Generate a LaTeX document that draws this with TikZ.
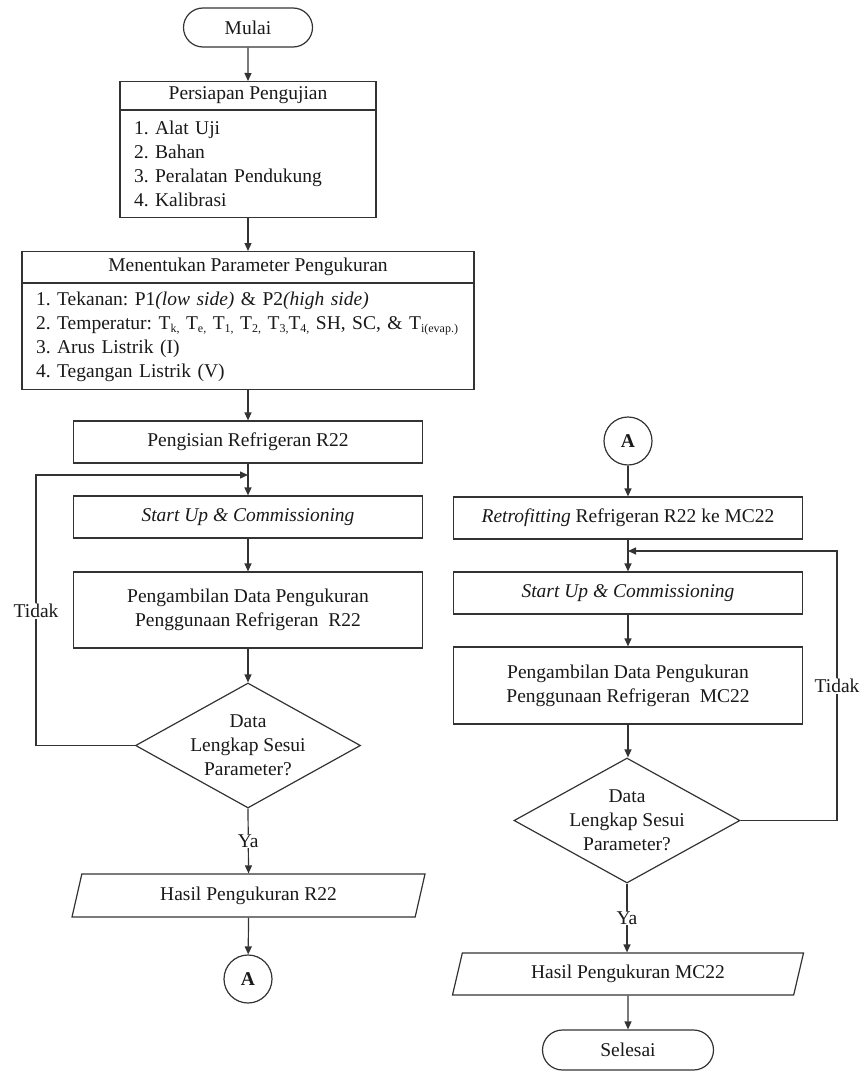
\documentclass[tikz,border=0pt]{standalone}
\usepackage{fontspec}
\setmainfont{Liberation Serif}
\usetikzlibrary{arrows.meta,shapes.geometric,shapes.misc}
\newcommand{\lowidx}[1]{\raisebox{-3pt}{\fontsize{12}{12}\selectfont #1}}

\begin{document}
\begin{tikzpicture}[x=1pt, y=-1pt,
    every node/.append style = {font = \fontsize{19.5}{24}\selectfont\frenchspacing, text = black!90},
    line/.style = {draw = black!80, line width = 1.2pt},
    arrow/.style = {line, -{Triangle[length = 8pt, width = 7pt]}},
    process/.style = {line, rectangle, minimum width = 349, minimum height = 42, inner sep = 0pt, align = center},
    term/.style = {line, rounded rectangle, minimum height = 39, inner sep = 0pt},
    decision/.style = {line, diamond, minimum width = 225, minimum height = 125, inner sep = 0pt},
    dtext/.style = {align = center},
    io/.style = {line, trapezium, trapezium left angle = 61, trapezium right angle = 119, trapezium stretches body,
                 minimum width = 353, minimum height = 43, inner sep = 0pt},
    conn/.style = {line, circle, minimum size = 48, inner sep = 0pt, font = \fontsize{19.5}{24}\selectfont\bfseries},
    lbl/.style = {fill = white, inner sep = 1pt}]
    \useasboundingbox (0,0) rectangle (862,1073);

    \node[term, minimum width = 129] (mulai) at (248,27.5) {Mulai};
    \node[line, rectangle, minimum width = 256, minimum height = 28, inner sep = 0pt, anchor = north] (prepHead) at (248,81) {Persiapan Pengujian};
    \node[line, rectangle, text width = 228, inner xsep = 14, inner ysep = 0pt, minimum height = 107, align = left, anchor = north] (prepList) at (prepHead.south) {1. Alat Uji\\2. Bahan\\3. Peralatan Pendukung\\4. Kalibrasi};
    \node[line, rectangle, minimum width = 452, minimum height = 31, inner sep = 0pt, anchor = north] (paramHead) at (248,251) {Menentukan Parameter Pengukuran};
    \node[line, rectangle, text width = 424, inner xsep = 14, inner ysep = 0pt, minimum height = 106, align = left, anchor = north] (paramList) at (paramHead.south) {1. Tekanan: P1\textit{(low side)} \& P2\textit{(high side)}\\\mbox{2. Temperatur: T\lowidx{k,} T\lowidx{e,} T\lowidx{1,} T\lowidx{2,} T\lowidx{3,}T\lowidx{4,} SH, SC, \& T\lowidx{i(evap.)}}\\3. Arus Listrik (I)\\4. Tegangan Listrik (V)};

    \node[process] (isi) at (248,442) {Pengisian Refrigeran R22};
    \node[process] (start1) at (248,517) {\textit{Start Up \& Commissioning}};
    \node[process, minimum height = 76] (ambil1) at (248,610) {Pengambilan Data Pengukuran\\Penggunaan Refrigeran \ R22};
    \node[decision] (dec1) at (248,745.5) {};
    \node[dtext] (dec1txt) at (dec1.center) {Data\\Lengkap Sesui\\Parameter?};
    \node[io] (hasil1) at (248.5,895.5) {Hasil Pengukuran R22};
    \node[conn] (conA1) at (248,979) {A};
    \node[lbl] (tidakL) at (36,611) {Tidak};
    \coordinate (joinL) at (248,475);

    \node[conn] (conA2) at (628,441) {A};
    \node[process] (retro) at (628,518) {\textit{Retrofitting} Refrigeran R22 ke MC22};
    \node[process] (start2) at (628,593) {\textit{Start Up \& Commissioning}};
    \node[process, minimum height = 77] (ambil2) at (628,685.5) {Pengambilan Data Pengukuran\\Penggunaan Refrigeran \ MC22};
    \node[decision, minimum width = 226] (dec2) at (627,820.5) {};
    \node[dtext] (dec2txt) at (dec2.center) {Data\\Lengkap Sesui\\Parameter?};
    \node[io, minimum width = 351, minimum height = 42] (hasil2) at (628,974) {Hasil Pengukuran MC22};
    \node[term, minimum width = 171, minimum height = 40] (selesai) at (628,1050) {Selesai};
    \node[lbl] (tidakR) at (837,686) {Tidak};
    \coordinate (joinR) at (628,551);

    \draw[arrow] (mulai) -- (prepHead);
    \draw[arrow] (prepList) -- (paramHead);
    \draw[arrow] (paramList) -- (isi);
    \draw[arrow] (isi) -- (start1);
    \draw[arrow] (start1) -- (ambil1);
    \draw[arrow] (ambil1) -- (dec1.north);
    \draw[arrow] (dec1.south) -- (hasil1.north) node[lbl, pos = 0.5] (ya1) {Ya};
    \draw[arrow] (hasil1.south) -- (conA1);
    \draw[line] (dec1.west) -| (tidakL);
    \draw[arrow] (tidakL) |- (joinL);

    \draw[arrow] (conA2) -- (retro);
    \draw[arrow] (retro) -- (start2);
    \draw[arrow] (start2) -- (ambil2);
    \draw[arrow] (ambil2.south) -- (ambil2.south |- dec2.north);
    \draw[arrow] (dec2.south) -- (dec2.south |- hasil2.north) node[lbl, pos = 0.5] (ya2) {Ya};
    \draw[arrow] (hasil2.south -| selesai) -- (selesai);
    \draw[line] (dec2.east) -| (tidakR);
    \draw[arrow] (tidakR) |- (joinR);
\end{tikzpicture}
\end{document}
